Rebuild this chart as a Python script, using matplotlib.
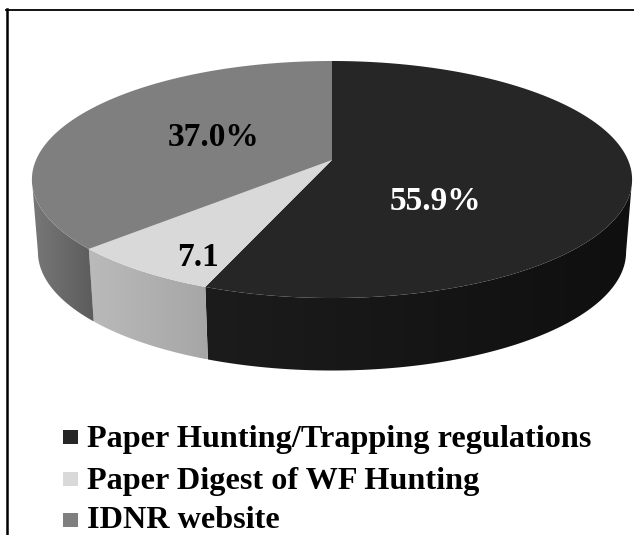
import numpy as np
import matplotlib
matplotlib.use('Agg')
import matplotlib.pyplot as plt
from matplotlib.colors import LinearSegmentedColormap
from matplotlib.patches import Polygon, Rectangle

# slices, clockwise from 12 o'clock
names = ['Paper Hunting/Trapping regulations', 'Paper Digest of WF Hunting', 'IDNR website']
values = [55.9, 7.1, 37.0]
slice_labels = ['55.9%', '7.1', '37.0%']
top_colors = ['#262626', '#d9d9d9', '#7f7f7f']
side_left = ['#1c1c1c', '#bababa', '#787878']
side_right = ['#0f0f0f', '#a6a6a6', '#5c5c5c']
label_colors = ['white', 'black', 'black']
label_pos = [(435, 202), (198, 257), (214, 138)]

W, H = 634, 535
CX, CY = 332, 160
A, B, K = 296, 115.3, 0.1646
DEPTH = 72.5
SHRINK = 0.98  # bottom rim is a little narrower than the top
SIDE_START = np.arccos(-K)  # where the rim turns, right and left
SIDE_END = 2 * np.pi - SIDE_START

plt.rcParams['font.family'] = 'Liberation Serif'
plt.rcParams['font.weight'] = 'bold'


def project(theta):
    # unit circle to pixels, with a bit of perspective (back edge is smaller)
    u = np.sin(theta)
    v = np.cos(theta)
    w = 1 + K * v
    return CX + A * u / w, CY - B * v / w


fig = plt.figure(figsize=(W / 100, H / 100), dpi=100)
ax = fig.add_axes([0, 0, 1, 1])

edges = np.radians(np.concatenate([[0], np.cumsum(values)]) * 3.6)

# side walls first, only the front part shows
for i in range(len(values)):
    t = np.linspace(max(edges[i], SIDE_START), min(edges[i + 1], SIDE_END), 200)
    x, y = project(t)
    xb = CX + (x - CX) * SHRINK
    yb = y + DEPTH
    wall = Polygon(np.c_[np.r_[x, xb[::-1]], np.r_[y, yb[::-1]]], closed=True,
                   transform=ax.transData, fc='none', lw=0)
    ax.add_patch(wall)
    cmap = LinearSegmentedColormap.from_list('wall', [side_left[i], side_right[i]])
    im = ax.imshow(np.linspace(0, 1, 256)[None, :], cmap=cmap, aspect='auto', zorder=2,
                   extent=[min(x.min(), xb.min()), max(x.max(), xb.max()), yb.max(), y.min()])
    im.set_clip_path(wall)

# top face
for i in range(len(values)):
    t = np.linspace(edges[i], edges[i + 1], 200)
    x, y = project(t)
    ax.fill(np.r_[CX, x], np.r_[CY, y], color=top_colors[i], lw=0, zorder=3)
    ax.text(label_pos[i][0], label_pos[i][1], slice_labels[i], color=label_colors[i],
            fontsize=24, ha='center', va='center', zorder=4)

# legend, drawn by hand to get the big left aligned rows
square_y = [437, 479, 520]
text_y = [447, 489, 528]
for i in range(len(names)):
    ax.add_patch(Rectangle((63, square_y[i] - 7), 15, 14, color=top_colors[i], lw=0))
    ax.text(87, text_y[i], names[i], fontsize=23.2, ha='left', va='baseline')

# frame is cut off on the right and bottom
ax.plot([7, 7], [9, H], color='black', lw=1.8)
ax.plot([6, W], [9.75, 9.75], color='black', lw=1.3)

ax.set_xlim(0, W)
ax.set_ylim(H, 0)
ax.axis('off')

fig.savefig('out.png', dpi=100)
